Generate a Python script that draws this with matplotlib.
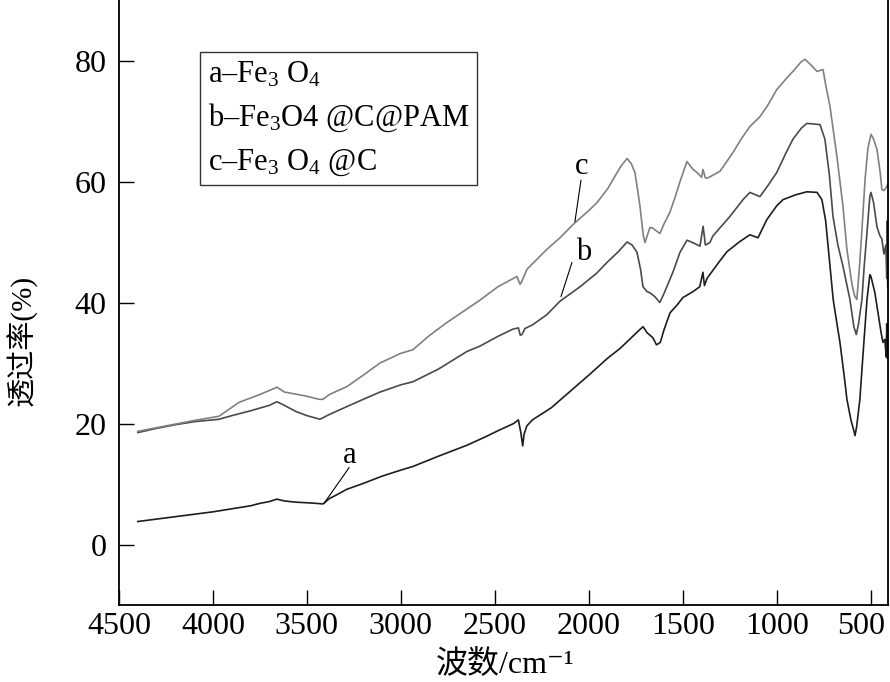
import matplotlib
matplotlib.use('Agg')
import matplotlib.pyplot as plt
import matplotlib.transforms as mtransforms
import numpy as np

plt.rcParams['font.family'] = ['Liberation Serif', 'Noto Sans CJK SC', 'DejaVu Sans']
plt.rcParams['mathtext.fontset'] = 'custom'
plt.rcParams['mathtext.rm'] = 'Liberation Serif'
plt.rcParams['mathtext.it'] = 'Liberation Serif:italic'
plt.rcParams['mathtext.default'] = 'regular'

# curve a: Fe3O4
wn_a = [4400, 4300, 4200, 4100, 4000, 3900, 3800, 3750, 3700, 3660, 3620, 3560,
        3500, 3450, 3415, 3380, 3330, 3290, 3200, 3100, 3000, 2936, 2800, 2649,
        2550, 2484, 2400, 2375, 2362, 2352, 2345, 2330, 2300, 2200, 2100, 2000,
        1900, 1834, 1780, 1740, 1712, 1690, 1660, 1640, 1620, 1600, 1568, 1530,
        1500, 1446, 1410, 1393, 1385, 1371, 1300, 1265, 1200, 1143, 1100, 1053,
        1000, 967, 900, 840, 786, 760, 740, 720, 700, 680, 664, 640, 627, 605,
        590, 584, 575, 558, 540, 520, 505, 499, 478, 460, 445, 435, 425, 418,
        415, 412, 410]
tr_a = [3.8, 4.2, 4.6, 5.0, 5.4, 5.9, 6.4, 6.8, 7.1, 7.5, 7.2, 7.0,
        6.9, 6.8, 6.7, 7.6, 8.4, 9.1, 10.1, 11.3, 12.3, 12.9, 14.6, 16.4,
        17.8, 18.8, 20.0, 20.6, 18.5, 16.3, 18.2, 19.6, 20.6, 22.6, 25.3, 28.0,
        30.8, 32.4, 34.0, 35.2, 36.0, 35.0, 34.2, 33.0, 33.4, 35.5, 38.3, 39.6,
        40.8, 41.8, 42.6, 45.0, 42.8, 44.0, 47.0, 48.4, 50.0, 51.2, 50.7, 53.7,
        56.0, 57.0, 57.8, 58.3, 58.2, 57.0, 53.5, 47.0, 40.5, 36.5, 33.4, 27.5,
        24.0, 20.5, 18.8, 18.0, 19.5, 24.0, 32.0, 40.5, 44.6, 44.3, 41.6, 38.0,
        35.0, 33.4, 33.9, 31.0, 36.5, 30.8, 34.0]

# curve b: Fe3O4@C@PAM
wn_b = [4400, 4300, 4200, 4100, 3968, 3900, 3800, 3700, 3660, 3620, 3560, 3500,
        3431, 3380, 3287, 3200, 3111, 3000, 2936, 2800, 2649, 2579, 2484, 2404,
        2375, 2365, 2356, 2340, 2300, 2223, 2154, 2047, 1960, 1904, 1840, 1797,
        1770, 1744, 1725, 1712, 1690, 1675, 1650, 1622, 1600, 1553, 1515, 1478,
        1440, 1409, 1392, 1380, 1356, 1340, 1250, 1180, 1143, 1090, 1050, 1000,
        950, 914, 870, 840, 800, 770, 744, 720, 701, 675, 648, 611, 590, 577,
        565, 547, 535, 520, 505, 499, 485, 467, 451, 441, 430, 420, 415, 412, 410]
tr_b = [18.5, 19.2, 19.8, 20.3, 20.7, 21.3, 22.1, 23.0, 23.6, 23.0, 22.0, 21.3,
        20.7, 21.5, 22.8, 24.0, 25.2, 26.4, 26.9, 29.0, 31.9, 32.8, 34.4, 35.6,
        35.8, 34.6, 34.7, 35.7, 36.3, 38.0, 40.2, 42.6, 44.8, 46.6, 48.5, 50.0,
        49.5, 48.3, 45.5, 42.6, 41.8, 41.6, 41.0, 40.0, 41.5, 45.0, 48.3, 50.3,
        49.8, 49.3, 52.6, 49.5, 49.9, 51.0, 54.2, 57.0, 58.2, 57.5, 59.2, 61.5,
        64.8, 67.0, 68.8, 69.6, 69.5, 69.4, 67.0, 61.0, 54.2, 49.5, 46.0, 40.5,
        36.0, 34.7, 36.5, 40.5, 46.0, 51.6, 57.5, 58.2, 56.5, 52.5, 51.0, 50.5,
        48.0, 49.5, 44.0, 53.5, 42.6]

# curve c: Fe3O4@C
wn_c = [4400, 4300, 4200, 4100, 3968, 3861, 3750, 3659, 3620, 3550, 3500, 3436,
        3415, 3380, 3287, 3200, 3111, 3000, 2936, 2850, 2755, 2650, 2579, 2484,
        2383, 2366, 2355, 2329, 2223, 2150, 2084, 2000, 1957, 1900, 1872, 1830,
        1797, 1775, 1755, 1740, 1728, 1710, 1701, 1690, 1675, 1660, 1648, 1622,
        1600, 1569, 1540, 1515, 1478, 1446, 1425, 1400, 1393, 1380, 1366, 1302,
        1233, 1190, 1143, 1090, 1050, 1000, 950, 914, 870, 850, 810, 786, 754,
        740, 717, 680, 648, 627, 600, 585, 574, 560, 547, 530, 515, 499, 485,
        467, 450, 441, 430, 418, 410]
tr_c = [18.7, 19.3, 19.9, 20.5, 21.2, 23.5, 24.8, 26.0, 25.2, 24.8, 24.5, 24.0,
        24.0, 24.8, 26.1, 28.0, 30.0, 31.6, 32.2, 34.5, 36.7, 38.9, 40.4, 42.6,
        44.3, 43.0, 43.6, 45.5, 48.8, 50.8, 52.9, 55.2, 56.5, 58.8, 60.3, 62.5,
        63.8, 63.0, 61.5, 58.5, 55.9, 51.0, 49.9, 51.0, 52.4, 52.3, 52.0, 51.4,
        53.0, 54.9, 57.5, 60.0, 63.3, 62.0, 61.5, 60.7, 62.0, 60.6, 60.6, 61.7,
        64.8, 67.0, 69.1, 70.7, 72.5, 75.2, 77.0, 78.2, 79.8, 80.2, 79.0, 78.2,
        78.5, 76.0, 72.4, 64.1, 55.9, 48.8, 43.0, 41.0, 40.5, 46.0, 52.0, 60.5,
        65.5, 67.8, 67.0, 65.3, 61.5, 58.7, 58.5, 59.0, 59.5]

labels = ['a\u2013Fe$_3$ O$_4$', 'b\u2013Fe$_3$O4 @C@PAM', 'c\u2013Fe$_3$ O$_4$ @C']
colours = ['#1e1e1e', '#4a4a4a', '#808080']

# annotation: letter position, line start, line end (wavenumber, %)
tags = [('a', (3271, 14.7), (3276, 12.7), (3409, 6.8)),
        ('b', (2026, 48.3), (2090, 46.6), (2148, 41.0)),
        ('c', (2037, 62.5), (2042, 60.2), (2074, 53.4))]

fig = plt.figure(figsize=(8.9, 6.82), dpi=100)
ax = fig.add_axes([0.1337, 0.1129, 0.8637, 0.8871])

for wn, tr, lab, col in zip([wn_a, wn_b, wn_c], [tr_a, tr_b, tr_c], labels, colours):
    ax.plot(wn, tr, color=col, lw=1.2, label=lab)

for letter, txt, p0, p1 in tags:
    ax.plot([p0[0], p1[0]], [p0[1], p1[1]], color='black', lw=0.8)
    ax.text(txt[0], txt[1], letter, fontsize=22, ha='center', va='center')

ax.set_xlim(4500, 410)
ax.set_ylim(-10, 90)
ax.set_xticks([4500, 4000, 3500, 3000, 2500, 2000, 1500, 1000, 500])
ax.set_yticks([0, 20, 40, 60, 80])
ax.tick_params(direction='in', length=10.5, width=1, labelsize=23)
ax.tick_params(axis='x', pad=5)
ax.tick_params(axis='y', pad=9)
ax.spines['top'].set_visible(False)
for s in ['left', 'bottom', 'right']:
    ax.spines[s].set_linewidth(1.3)

# the last label sits against the right edge of the picture
last = ax.get_xticklabels()[-1]
last.set_transform(last.get_transform() +
                   mtransforms.ScaledTranslation(-7 / 72, 0, fig.dpi_scale_trans))

ax.set_xlabel('波数/cm\u207b\u00b9', fontsize=23)
ax.xaxis.set_label_coords(0.502, -0.099)
ax.xaxis.label.set_va('center')
ax.set_ylabel('透过率(%)', fontsize=21)
ax.yaxis.set_label_coords(-0.126, 0.438)
ax.yaxis.label.set_va('center')

leg = ax.legend(loc='upper left', bbox_to_anchor=(0.1054, 0.914), borderaxespad=0,
                handlelength=0, handletextpad=0, fontsize=22, frameon=True,
                fancybox=False, labelspacing=0.42, borderpad=0.25)
leg.get_frame().set_edgecolor('black')
leg.get_frame().set_linewidth(1.0)
for h in leg.legend_handles:
    h.set_visible(False)

fig.savefig('out.png', dpi=100)
